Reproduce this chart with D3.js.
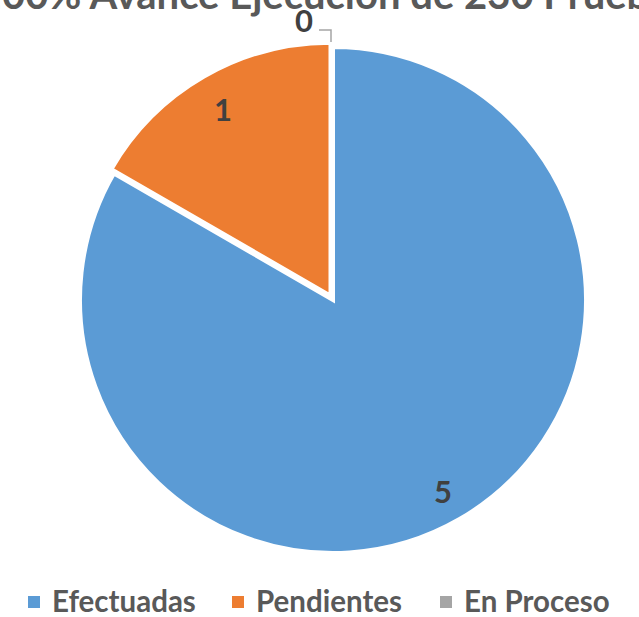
<!DOCTYPE html>
<html>
<head>
<meta charset="utf-8">
<script src="https://cdn.jsdelivr.net/npm/d3@7"></script>
<style>
  body { margin: 0; background: #fff; }
  text { font-family: Lato, "Open Sans", sans-serif; font-weight: bold; }
</style>
</head>
<body>
<div id="chart"></div>
<script>
// data
const categories = ["Efectuadas", "Pendientes", "En Proceso"];
const values = [5, 1, 0];
const colors = ["#5B9BD5", "#ED7D31", "#A5A5A5"];
const title = "100% Avance Ejecución de 230 Pruebas";

const width = 639, height = 617;
const cx = 333, cy = 300, r = 253;

const svg = d3.select("#chart").append("svg")
  .attr("width", width)
  .attr("height", height);

// title, cut by top edge like the picture
svg.append("text")
  .attr("x", 333)
  .attr("y", 9)
  .attr("text-anchor", "middle")
  .style("font-size", "40px")
  .style("fill", "#595959")
  .text(title);

const data = categories.map((c, i) => ({name: c, value: values[i], color: colors[i]}));

const pie = d3.pie().sort(null).value(d => d.value)
  .startAngle(0).endAngle(2 * Math.PI);
const arcs = pie(data);
const arc = d3.arc().innerRadius(0).outerRadius(r);

const g = svg.append("g").attr("transform", `translate(${cx},${cy})`);

g.selectAll("path")
  .data(arcs.filter(d => d.value > 0))
  .join("path")
    .attr("d", arc)
    .attr("fill", d => d.data.color)
    .attr("stroke", "#fff")
    .attr("stroke-width", 4)
    .attr("transform", d => {
      // small explode on the orange slice
      if (d.data.name !== "Pendientes") return null;
      const a = (d.startAngle + d.endAngle) / 2;
      return `translate(${Math.sin(a) * 5},${-Math.cos(a) * 5})`;
    });

// labels
const labelArc = d3.arc().innerRadius(220).outerRadius(220);

arcs.forEach(d => {
  let p = labelArc.centroid(d);
  let x = cx + p[0], y = cy + p[1];
  if (d.value === 0) {
    // leader line for the zero slice
    x = cx - 29; y = cy - r - 27;
    svg.append("polyline")
      .attr("points", `${cx - 14},${y + 10} ${cx - 2},${y + 10} ${cx - 2},${y + 22}`)
      .attr("fill", "none")
      .attr("stroke", "#A5A5A5")
      .attr("stroke-width", 1.5);
  }
  svg.append("text")
    .attr("x", x)
    .attr("y", y)
    .attr("text-anchor", "middle")
    .attr("dominant-baseline", "central")
    .style("font-size", "31px")
    .style("fill", "#404040")
    .text(d.data.value);
});

// legend
const legendX = [28, 232, 440];
const leg = svg.append("g");
data.forEach((d, i) => {
  leg.append("rect")
    .attr("x", legendX[i])
    .attr("y", 596)
    .attr("width", 12)
    .attr("height", 12)
    .attr("fill", d.color);
  leg.append("text")
    .attr("x", legendX[i] + 24)
    .attr("y", 612)
    .style("font-size", "29.5px")
    .style("fill", "#595959")
    .text(d.name);
});
</script>
</body>
</html>
